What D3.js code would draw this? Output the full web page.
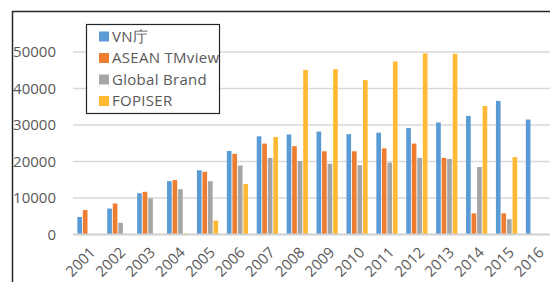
<!DOCTYPE html>
<meta charset="utf-8">
<style>
  body { margin: 0; background: #fff; }
  text { font-family: "Open Sans", sans-serif; fill: #595959; }
</style>
<body>
<script src="https://cdn.jsdelivr.net/npm/d3@7"></script>
<script>
// chart data
var years = ["2001","2002","2003","2004","2005","2006","2007","2008",
             "2009","2010","2011","2012","2013","2014","2015","2016"];
var seriesNames = ["VN庁", "ASEAN TMview", "Global Brand", "FOPISER"];
var vnValues     = [4800, 7100, 11300, 14600, 17600, 22900, 26900, 27400, 28200, 27500, 27900, 29200, 30700, 32500, 36600, 31500];
var aseanValues  = [6700, 8500, 11700, 14900, 17200, 22100, 24900, 24200, 22800, 22800, 23600, 24900, 21000, 5800, 5800, null];
var globalValues = [null, 3200, 9900, 12400, 14600, 18900, 21000, 20100, 19400, 19000, 19700, 21000, 20700, 18500, 4200, null];
var fopiserValues = [null, null, null, 300, 3800, 13800, 26700, 45100, 45300, 42300, 47400, 49600, 49500, 35200, 21200, null];
var yTicks = [0, 10000, 20000, 30000, 40000, 50000];
var colors = ["#5B9BD5", "#ED7D31", "#A5A5A5", "#FFB932"];

var allSeries = [vnValues, aseanValues, globalValues, fopiserValues];

var width = 550, height = 282;

var svg = d3.select("body").append("svg")
    .attr("width", width)
    .attr("height", height);

// outer chart frame (cropped on right and bottom)
svg.append("rect")
    .attr("x", 12.5).attr("y", 11.5)
    .attr("width", 600).attr("height", 400)
    .style("fill", "none")
    .style("stroke", "#262626")
    .style("stroke-width", 1.5);

var x = d3.scaleBand()
    .domain(years)
    .range([73, 551.4])
    .paddingInner(0.29)
    .paddingOuter(0.145);

var xInner = d3.scaleBand()
    .domain(d3.range(4))
    .range([0, x.bandwidth()])
    .paddingInner(0.16);

var y = d3.scaleLinear()
    .domain([0, 50000])
    .range([234.5, 52]);

// gridlines
svg.append("g")
    .selectAll("line")
    .data(yTicks.slice(1))
    .enter().append("line")
    .attr("x1", 73).attr("x2", 551)
    .attr("y1", function(d) { return y(d); })
    .attr("y2", function(d) { return y(d); })
    .style("stroke", "#d9d9d9")
    .style("stroke-width", 1.5);

// y tick labels
svg.append("g")
    .selectAll("text")
    .data(yTicks)
    .enter().append("text")
    .attr("x", 56)
    .attr("y", function(d) { return y(d); })
    .attr("dy", "0.35em")
    .style("text-anchor", "end")
    .style("font-size", "15px")
    .text(function(d) { return d; });

// bars
var groups = svg.append("g")
    .selectAll("g")
    .data(allSeries)
    .enter().append("g")
    .style("fill", function(d, i) { return colors[i]; });

groups.each(function(vals, si) {
    d3.select(this).selectAll("rect")
        .data(vals.map(function(v, k) { return {year: years[k], v: v}; })
                  .filter(function(d) { return d.v != null; }))
        .enter().append("rect")
        .attr("x", function(d) { return x(d.year) + xInner(si); })
        .attr("width", xInner.bandwidth())
        .attr("y", function(d) { return y(d.v); })
        .attr("height", function(d) { return y(0) - y(d.v); });
});

// baseline
svg.append("line")
    .attr("x1", 73).attr("x2", 551)
    .attr("y1", y(0)).attr("y2", y(0))
    .style("stroke", "#d0d0d0")
    .style("stroke-width", 2);

// x labels, rotated
svg.append("g")
    .selectAll("text")
    .data(years)
    .enter().append("text")
    .attr("transform", function(d) {
        return "translate(" + (x(d) + x.bandwidth() / 2 + 1) + "," + 246 + ") rotate(-45)";
    })
    .attr("dy", "0.7em")
    .style("text-anchor", "end")
    .style("font-size", "15px")
    .text(function(d) { return d; });

// legend
var legend = svg.append("g");
legend.append("rect")
    .attr("x", 86.5).attr("y", 24.5)
    .attr("width", 133).attr("height", 89)
    .style("fill", "#fff")
    .style("stroke", "#262626")
    .style("stroke-width", 1.2);

var items = legend.selectAll("g.item")
    .data(seriesNames)
    .enter().append("g")
    .attr("class", "item")
    .attr("transform", function(d, i) { return "translate(99," + (36.5 + i * 21.5) + ")"; });

items.append("rect")
    .attr("x", 0).attr("y", -5)
    .attr("width", 10).attr("height", 10)
    .style("fill", function(d, i) { return colors[i]; });

items.append("text")
    .attr("x", 13)
    .attr("dy", "0.35em")
    .style("font-size", "15px")
    .style("letter-spacing", "0.3px")
    .text(function(d) { return d; });
</script>
</body>
